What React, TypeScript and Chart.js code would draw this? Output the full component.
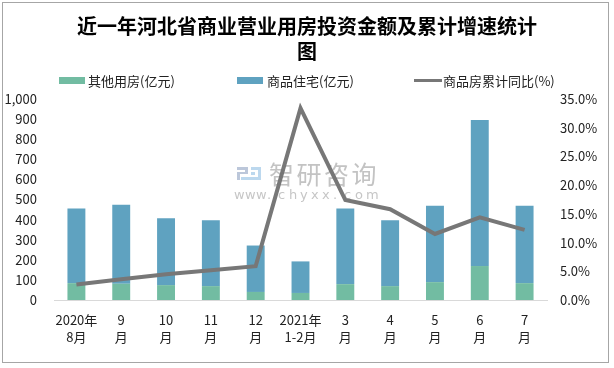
import React, { useEffect, useRef } from "react";
import { Chart, registerables } from "chart.js";

Chart.register(...registerables);

// ---- data ----
const categories: string[][] = [
  ["2020年", "8月"],
  ["9", "月"],
  ["10", "月"],
  ["11", "月"],
  ["12", "月"],
  ["2021年", "1-2月"],
  ["3", "月"],
  ["4", "月"],
  ["5", "月"],
  ["6", "月"],
  ["7", "月"],
];
const otherValues = [84, 81, 74, 69, 40, 35, 79, 69, 89, 169, 84];
const residentialValues = [371, 393, 333, 328, 231, 157, 376, 328, 380, 727, 385];
const cumulativeYoY = [2.7, 3.6, 4.5, 5.2, 5.9, 33.4, 17.4, 15.8, 11.5, 14.4, 12.2];

const titleLines = ["近一年河北省商业营业用房投资金额及累计增速统计", "图"];
const seriesNames = ["其他用房(亿元)", "商品住宅(亿元)", "商品房累计同比(%)"];

const GREEN = "#72BCA2";
const BLUE = "#5FA2C0";
const GREY_LINE = "#777777";
const TEXT = "#222222";
const FONT = '"Noto Sans CJK SC", "Noto Sans", sans-serif';

const frameAndWatermark = {
  id: "frameAndWatermark",
  beforeDatasetsDraw(chart: any) {
    const ctx = chart.ctx;
    ctx.save();
    // logo
    ctx.fillStyle = "#bcc7da";
    ctx.fillRect(237, 167, 11, 3);
    ctx.fillRect(245, 167, 3, 7);
    ctx.fillRect(237, 172, 11, 2);
    ctx.fillRect(237, 172, 3, 8);
    ctx.fillStyle = "#bcd8ee";
    ctx.fillRect(251, 167, 10, 3);
    ctx.fillRect(258, 167, 3, 13);
    ctx.fillRect(241, 177, 20, 3);
    ctx.fillRect(251, 172, 4, 3);
    // text
    ctx.fillStyle = "#c3c3c3";
    ctx.textBaseline = "middle";
    ctx.textAlign = "left";
    ctx.font = '25px "Noto Sans CJK SC"';
    ["智", "研", "咨", "询"].forEach((c, i) => ctx.fillText(c, 269 + i * 27.5, 174));
    ctx.font = '13px "DejaVu Sans"';
    ctx.fillStyle = "#c6c6c6";
    "www.chyxx.com".split("").forEach((c, i) => ctx.fillText(c, 234 + i * 11, 196));
    ctx.restore();
  },
  afterDraw(chart: any) {
    const ctx = chart.ctx;
    ctx.save();
    ctx.strokeStyle = "#a6a6a6";
    ctx.lineWidth = 1;
    ctx.strokeRect(2.5, 2.5, 606, 360);
    ctx.restore();
  },
};

export default function App() {
  const ref = useRef<HTMLCanvasElement | null>(null);

  useEffect(() => {
    if (!ref.current) return;
    const chart = new Chart(ref.current, {
      type: "bar",
      data: {
        labels: categories,
        datasets: [
          {
            type: "line",
            label: seriesNames[2],
            data: cumulativeYoY,
            yAxisID: "y1",
            borderColor: GREY_LINE,
            backgroundColor: GREY_LINE,
            borderWidth: 4,
            pointRadius: 0,
            tension: 0,
            order: 0,
          } as any,
          {
            type: "bar",
            label: seriesNames[0],
            data: otherValues,
            yAxisID: "y",
            backgroundColor: GREEN,
            stack: "s",
            order: 1,
            barPercentage: 0.4,
            categoryPercentage: 1,
          },
          {
            type: "bar",
            label: seriesNames[1],
            data: residentialValues,
            yAxisID: "y",
            backgroundColor: BLUE,
            stack: "s",
            order: 1,
            barPercentage: 0.4,
            categoryPercentage: 1,
          },
        ],
      },
      options: {
        animation: false,
        responsive: false,
        layout: { padding: { top: 0, left: 0, right: 0, bottom: 0 } },
        plugins: {
          legend: { display: false },
          tooltip: { enabled: false },
          title: {
            display: true,
            text: titleLines,
            color: "#000000",
            font: { family: FONT, size: 20, weight: "bold", lineHeight: 1.25 },
            padding: { top: 14, bottom: 35 },
          },
        },
        scales: {
          x: {
            stacked: true,
            offset: true,
            grid: { display: false, drawTicks: false },
            border: { display: true, color: "#d9d9d9", width: 1 },
            ticks: {
              color: TEXT,
              font: { family: FONT, size: 13, lineHeight: 1.31 },
              padding: 12,
              maxRotation: 0,
              autoSkip: false,
            },
            afterFit: (s: any) => {
              s.height = 68;
            },
          },
          y: {
            stacked: true,
            position: "left",
            min: 0,
            max: 1000,
            grid: { display: false, drawTicks: false },
            border: { display: false },
            ticks: {
              stepSize: 100,
              color: TEXT,
              font: { family: FONT, size: 13 },
              padding: 17,
              callback: (v: any) => Number(v).toLocaleString("en-US"),
            },
            afterFit: (s: any) => {
              s.width = 54;
            },
          },
          y1: {
            position: "right",
            min: 0,
            max: 35,
            grid: { display: false, drawTicks: false },
            border: { display: false },
            ticks: {
              stepSize: 5,
              color: TEXT,
              font: { family: FONT, size: 13 },
              padding: 13,
              callback: (v: any) => Number(v).toFixed(1) + "%",
            },
            afterFit: (s: any) => {
              s.width = 67;
            },
          },
        },
      },
      plugins: [frameAndWatermark],
    });
    return () => chart.destroy();
  }, []);

  const textStyle: React.CSSProperties = {
    position: "absolute",
    top: 72,
    height: 17,
    lineHeight: "17px",
    fontFamily: FONT,
    fontSize: 13,
    color: TEXT,
    whiteSpace: "nowrap",
  };

  return (
    <div style={{ position: "fixed", left: 0, top: 0, width: 614, height: 368, background: "#ffffff" }}>
      <canvas ref={ref} width={614} height={368} style={{ position: "absolute", left: 0, top: 0, width: 614, height: 368 }} />
      <div style={{ position: "absolute", left: 59, top: 77, width: 26, height: 7, background: GREEN }} />
      <span style={{ ...textStyle, left: 88 }}>{seriesNames[0]}</span>
      <div style={{ position: "absolute", left: 237, top: 77, width: 26, height: 7, background: BLUE }} />
      <span style={{ ...textStyle, left: 267 }}>{seriesNames[1]}</span>
      <div style={{ position: "absolute", left: 414, top: 79, width: 28, height: 3, background: GREY_LINE }} />
      <span style={{ ...textStyle, left: 443 }}>{seriesNames[2]}</span>
    </div>
  );
}
